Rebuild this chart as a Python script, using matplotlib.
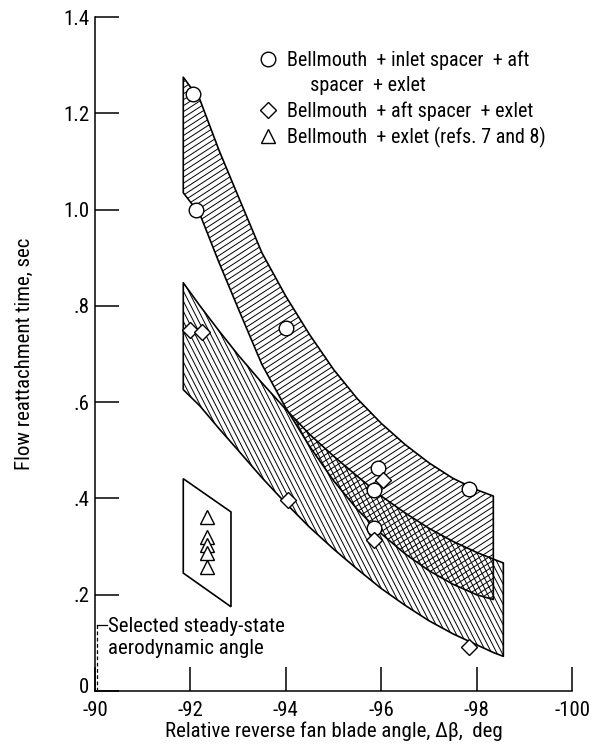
import os

import matplotlib
matplotlib.use("Agg")
import matplotlib.pyplot as plt
import numpy as np
from matplotlib import font_manager as fm
from matplotlib.patches import Polygon
from matplotlib.collections import LineCollection
from matplotlib.lines import Line2D
from matplotlib.transforms import ScaledTranslation

# ---------------------------------------------------------------------------
# Data
# ---------------------------------------------------------------------------
circle_x = [-92.05, -92.12, -94.0, -95.94, -95.85, -95.85, -97.85]
circle_y = [1.24, 1.0, 0.755, 0.463, 0.418, 0.339, 0.42]

diamond_x = [-92.0, -92.25, -94.05, -96.03, -95.85, -97.83]
diamond_y = [0.75, 0.745, 0.397, 0.438, 0.314, 0.091]

triangle_x = [-92.35, -92.35, -92.35, -92.35, -92.35]
triangle_y = [0.361, 0.32, 0.303, 0.287, 0.258]

# band with circles (upper)
band_x = [-91.85, -92.2, -92.6, -93.0, -93.5, -94.0, -94.5, -95.0,
          -95.5, -96.0, -96.5, -97.0, -97.5, -98.0, -98.35]
upper_top_y = [1.275, 1.228, 1.123, 1.028, 0.91, 0.82, 0.74, 0.668,
               0.607, 0.556, 0.512, 0.474, 0.442, 0.418, 0.405]
upper_bot_y = [1.035, 0.99, 0.89, 0.795, 0.678, 0.588, 0.508, 0.437,
               0.377, 0.327, 0.285, 0.25, 0.222, 0.2, 0.19]

# band with diamonds (lower), right edge a little further out
lower_x = band_x + [-98.56]
lower_top_y = [0.848, 0.80, 0.748, 0.698, 0.64, 0.585, 0.533, 0.488,
               0.446, 0.405, 0.37, 0.338, 0.311, 0.288, 0.274, 0.266]
lower_bot_y = [0.626, 0.592, 0.545, 0.50, 0.443, 0.39, 0.34, 0.295,
               0.253, 0.213, 0.178, 0.146, 0.119, 0.096, 0.08, 0.072]

# box around the triangles
box_x = [-91.85, -92.85, -92.85, -91.85]
box_y = [0.441, 0.372, 0.175, 0.245]

steady_angle = -90.05
steady_top = 0.137

xticks = [-90, -92, -94, -96, -98, -100]
xtick_labels = ["-90", "-92", "-94", "-96", "-98", "-100"]
yticks = [0, 0.2, 0.4, 0.6, 0.8, 1.0, 1.2, 1.4]
ytick_labels = ["0", ".2", ".4", ".6", ".8", "1.0", "1.2", "1.4"]

legend_labels = ["Bellmouth  + inlet spacer  + aft",
                 "     spacer  + exlet",
                 "Bellmouth  + aft spacer  + exlet",
                 "Bellmouth  + exlet (refs. 7 and 8)"]

FS = 15
FS_LEG = 14.5
W_PX, H_PX = 595, 746
AX_RECT = [0.1597, 0.0737, 0.8017, 0.9035]


def narrow_font():
    """Find a condensed/narrow sans font, else fall back to DejaVu Sans."""
    prefs = ["liberation sans narrow", "roboto condensed", "open sans condensed",
             "noto sans", "dejavu sans"]
    found = []
    for f in fm.fontManager.ttflist:
        key = (f.name + " " + os.path.basename(f.fname)).lower()
        narrow = ("narrow" in key or "condensed" in key
                  or str(f.stretch) in ("condensed", "semi-condensed"))
        if not narrow or f.style != "normal":
            continue
        if f.weight not in (400, "normal", "regular", "book"):
            continue
        if "bold" in key or "light" in key or "mono" in key or "medium" in key:
            continue
        rank = len(prefs)
        for i, p in enumerate(prefs):
            if key.startswith(p):
                rank = i
                break
        found.append((rank, f.fname))
    if found:
        found.sort()
        return fm.FontProperties(fname=found[0][1])
    return fm.FontProperties(family="DejaVu Sans")


def add_hatch(ax, patch, angle_deg, spacing_px, lw=0.7):
    """Parallel lines at a given screen angle, clipped to a patch."""
    aw = AX_RECT[2] * W_PX
    ah = AX_RECT[3] * H_PX
    a = np.deg2rad(angle_deg)
    d = np.array([np.cos(a), np.sin(a)])
    n = np.array([-np.sin(a), np.cos(a)])
    c0 = np.array([aw / 2, ah / 2])
    L = 1200
    segs = []
    for off in np.arange(-L, L, spacing_px):
        p0 = c0 + off * n - L * d
        p1 = c0 + off * n + L * d
        segs.append([(p0[0] / aw, p0[1] / ah), (p1[0] / aw, p1[1] / ah)])
    lc = LineCollection(segs, colors="black", linewidths=lw,
                        transform=ax.transAxes, zorder=1)
    ax.add_collection(lc)
    lc.set_clip_path(patch)


base = narrow_font()
fp = base.copy()
fp.set_size(FS)
fp_leg = base.copy()
fp_leg.set_size(FS_LEG)

fig = plt.figure(figsize=(W_PX / 100, H_PX / 100), dpi=100)
ax = fig.add_axes(AX_RECT)

# bands
upper_pts = np.column_stack([band_x + band_x[::-1], upper_top_y + upper_bot_y[::-1]])
lower_pts = np.column_stack([lower_x + lower_x[::-1], lower_top_y + lower_bot_y[::-1]])
upper = Polygon(upper_pts, closed=True, facecolor="none", edgecolor="black",
                lw=1.2, zorder=2, joinstyle="round")
lower = Polygon(lower_pts, closed=True, facecolor="none", edgecolor="black",
                lw=1.2, zorder=2, joinstyle="round")
ax.add_patch(upper)
ax.add_patch(lower)
add_hatch(ax, upper, 33, 5.0)
add_hatch(ax, lower, -63, 4.6)

box = Polygon(np.column_stack([box_x, box_y]), closed=True,
              facecolor="none", edgecolor="black", lw=1.2, zorder=2)
ax.add_patch(box)

# data points
mk = dict(linestyle="none", mfc="white", mec="black", mew=1.0, zorder=4)
ax.plot(circle_x, circle_y, marker="o", ms=10.5, **mk)
ax.plot(diamond_x, diamond_y, marker="D", ms=8, **mk)
ax.plot(triangle_x, triangle_y, marker="^", ms=10.5, **mk)

# selected steady-state angle
ax.plot([steady_angle, steady_angle], [0, steady_top], color="black",
        lw=0.9, ls=(0, (3, 2)), zorder=3, clip_on=False)
ax.plot([steady_angle, -90.25], [steady_top, steady_top], color="black",
        lw=0.9, zorder=3)
ax.text(-90.28, 0.153, "Selected steady-state\naerodynamic angle",
        fontproperties=fp, ha="left", va="top", linespacing=1.2)

# legend
handles = [Line2D([], [], marker="o", ms=10.5, **mk),
           Line2D([], [], linestyle="none"),
           Line2D([], [], marker="D", ms=8, **mk),
           Line2D([], [], marker="^", ms=10.5, **mk)]
ax.legend(handles, legend_labels, loc="upper left", bbox_to_anchor=(0.341, 0.95),
          frameon=False, prop=fp_leg, handlelength=1.0, handletextpad=0.45,
          labelspacing=0.3, borderpad=0, borderaxespad=0)

# axes
ax.set_xlim(-90, -100)
ax.set_ylim(0, 1.4)
ax.set_xticks(xticks)
ax.set_xticklabels(xtick_labels, fontproperties=fp)
ax.set_yticks(yticks)
ax.set_yticklabels(ytick_labels, fontproperties=fp)
ax.tick_params(direction="in", length=17, width=1.1)
ax.tick_params(axis="x", pad=7)
ax.tick_params(axis="y", pad=4)
for s in ("top", "right"):
    ax.spines[s].set_visible(False)
for s in ("left", "bottom"):
    ax.spines[s].set_linewidth(1.1)

# the "0" sits a little above its tick in the original
zero_lab = ax.get_yticklabels()[0]
zero_lab.set_transform(zero_lab.get_transform()
                       + ScaledTranslation(0, 4 / 72, fig.dpi_scale_trans))

ax.set_xlabel("Relative reverse fan blade angle, \u0394\u03b2,  deg", fontproperties=fp)
ax.set_ylabel("Flow reattachment time, sec", fontproperties=fp)
ax.xaxis.set_label_coords(0.5, -0.045)
ax.yaxis.set_label_coords(-0.128, 0.5)

fig.savefig("out.png", dpi=100)
